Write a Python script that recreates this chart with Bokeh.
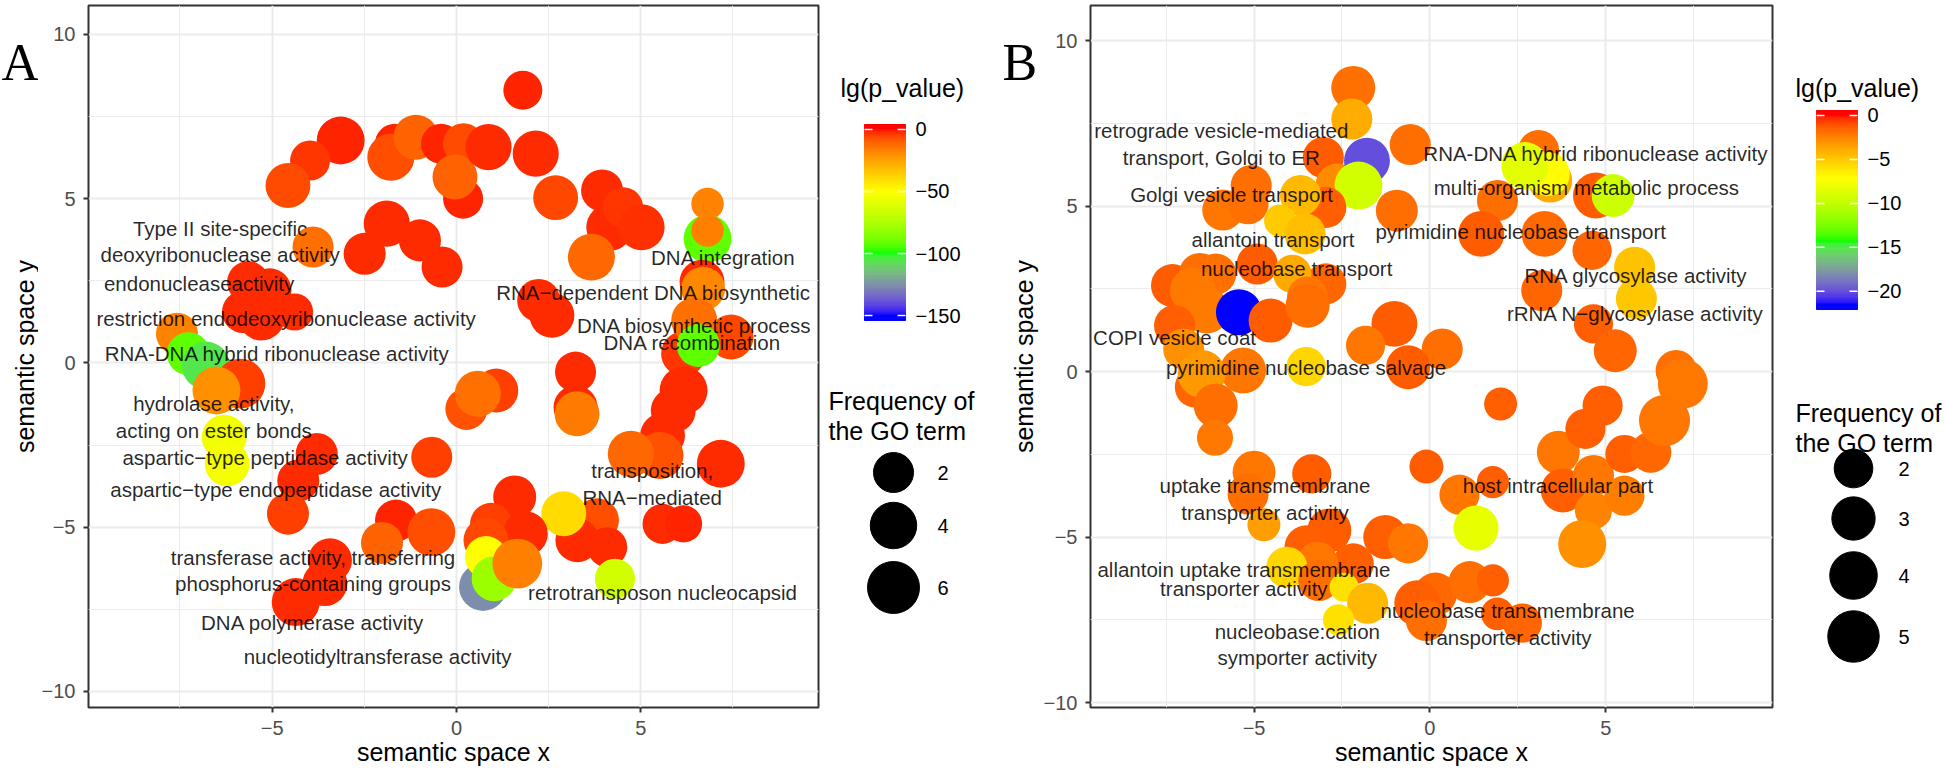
import numpy as np
from bokeh.plotting import figure
from bokeh.models import ColumnDataSource, LinearColorMapper, FixedTicker, Range1d
from bokeh.layouts import row
from bokeh.embed import file_html
from bokeh.resources import INLINE
from bokeh.core.properties import value

FONT = "Liberation Sans"

# ------------------------------------------------------------------ data A
A_x = [1.80, -3.14, -3.97, -4.57, -1.67, -1.78, -1.10, -0.42, 0.19, 0.18, -0.04, 0.87, 2.15, 2.69,
       3.95, 4.16, 4.52, 5.02, 3.66, 6.81, 6.81, 6.81, 6.66, 6.69, 6.16, 7.45, 6.45, 6.56, 2.23, 2.59,
       -2.49, -1.89, -0.99, -0.39, -3.89, -5.65, -5.07, -5.79, -5.29, -4.39, -7.58, -7.27, -6.80,
       -5.86, -6.51, -6.30, -6.22, 3.23, -3.79, -4.29, -4.57, -0.67, 0.27, 1.08, 0.58, 3.23, 3.27,
       6.16, 5.88, 5.59, 5.52, 4.73, 7.17, 1.58, 3.81, 3.28, 4.09, 2.91, 5.59, 6.16, 4.30, -1.64,
       -2.02, -0.68, -3.43, -3.57, -4.36, 0.94, 1.87, 0.80, 0.72, 0.80, 1.02, 1.65]
A_y = [8.30, 6.77, 6.16, 5.40, 6.67, 6.26, 6.87, 6.67, 6.67, 5.00, 5.66, 6.57, 6.37, 5.03,
       5.25, 4.13, 4.74, 4.13, 3.22, 4.84, 3.78, 4.03, 2.46, 2.26, 0.28, 0.79, 1.29, 0.53, 1.90, 1.45,
       3.32, 4.24, 3.73, 2.92, 3.53, 2.46, 2.21, 1.55, 1.40, 1.55, 0.89, 0.28, -0.08,
       -0.63, -0.84, -2.26, -3.07, -0.28, -2.77, -3.58, -4.59, -2.87, -1.40, -0.84, -0.94, -1.35, -1.55,
       -0.84, -1.45, -2.21, -2.82, -2.77, -3.07, -4.08, -4.79, -5.40, -5.61, -4.59, -4.90, -4.90, -6.57, -4.80,
       -5.48, -5.15, -6.01, -6.72, -7.28, -4.90, -5.20, -5.40, -6.82, -5.91, -6.57, -6.11]
A_lgp = [-2, -2, -4, -7, -2, -7.5, -11, -2, -7, -2, -11, -2.5, -2.5, -6,
         -2.5, -2.5, -4, -3, -12, -18, -92, -17, -2.5, -19, -4, -6, -14, -92, -2.5, -2.5,
         -2.5, -2.5, -2.5, -2.5, -14, -2.5, -2.5, -2.5, -2.5, -2.5, -18, -92, -106,
         -5, -21, -55, -53, -2.5, -2.5, -2.5, -5, -5, -8, -5, -14, -2.5, -16,
         -2.5, -2.5, -2.5, -8, -12, -2.5, -2.5, -7.5, -2.5, -2.5, -40, -2.5, -2, -65, -2,
         -11, -7.5, -2.5, -2.5, -2.5, -5, -2.5, -6, -126, -50, -80, -17]
A_freq = [1.7, 4.5, 2.0, 3.5, 2.0, 4.2, 3.5, 2.0, 2.3, 2.0, 3.5, 3.9, 3.9, 3.5,
          2.6, 4.2, 2.0, 3.9, 4.2, 0.0, 4.5, 0.0, 3.5, 3.2, 3.5, 3.5, 3.9, 2.9, 2.9, 3.5,
          2.6, 3.9, 2.6, 2.3, 2.3, 2.6, 3.2, 2.6, 4.2, 1.2, 2.6, 2.9, 4.5,
          5.2, 4.5, 3.5, 3.5, 2.3, 2.6, 2.6, 2.6, 2.3, 2.6, 3.2, 3.9, 3.2, 3.5,
          4.5, 3.5, 3.5, 4.2, 3.9, 4.5, 2.9, 3.2, 3.2, 2.0, 3.5, 2.0, 1.2, 2.0, 2.6,
          2.6, 4.5, 3.2, 3.5, 4.5, 2.6, 3.5, 3.5, 4.5, 2.6, 3.5, 5.2]
A_lab_text = ["Type II site-specific\ndeoxyribonuclease activity", "endonucleaseactivity",
              "restriction endodeoxyribonuclease activity", "RNA-DNA hybrid ribonuclease activity",
              "DNA integration", "RNA\u2212dependent DNA biosynthetic", "DNA biosynthetic process",
              "DNA recombination", "hydrolase activity,\nacting on ester bonds",
              "aspartic\u2212type peptidase activity", "aspartic\u2212type endopeptidase activity",
              "transposition,\nRNA\u2212mediated",
              "transferase activity, transferring\nphosphorus-containing groups",
              "retrotransposon nucleocapsid", "DNA polymerase activity",
              "nucleotidyltransferase activity"]
A_lab_x = [-6.41, -6.98, -4.62, -4.86, 7.24, 5.35, 6.45, 6.40, -6.58, -5.19, -4.90, 5.31, -3.89,
           5.59, -3.90, -2.14]
A_lab_y = [3.69, 2.43, 1.34, 0.28, 3.20, 2.13, 1.14, 0.63, -1.65, -2.89, -3.86, -3.68, -6.32,
           -6.98, -7.89, -8.94]

# ------------------------------------------------------------------ data B
B_x = [-2.18, -2.22, -0.56, -3.03, -2.63, -1.79, -2.03, -2.96, -5.08, -5.89, -5.17, -3.68, -4.26,
       -3.55, -0.94, 3.09, 3.42, 3.35, 2.70, 1.92, 4.72, 5.21, 1.46, 3.26, 4.61, 5.82, 3.18, 5.87,
       4.65, 5.27, 7.00, 7.19, -4.91, -2.96, -3.91, -3.48, -7.32, -6.54, -6.09, -6.74, -6.35, -7.26,
       -5.43, -4.53, -3.48, -1.01, 0.35, -1.83, -0.62, -3.52, -7.00, -6.67, -5.31, -6.49, -6.09,
       -6.11, 2.01, -5.00, -5.17, -4.72, -3.36, -0.10, 0.84, 1.79, 1.31, -2.86, -3.51, -2.18, -3.20,
       -4.07, -3.16, -2.44, -1.77, -2.60, -1.27, -0.62, 3.65, 3.78, 4.42, 4.91, 4.65, 4.65, 5.53,
       5.53, 6.28, 6.67, 4.33, 0.16, -0.36, -0.10, 1.13, 1.79, 1.92, 2.63]
B_y = [8.57, 7.63, 6.86, 6.47, 5.62, 6.37, 5.62, 4.96, 5.62, 4.88, 5.07, 5.32, 4.56,
       4.16, 4.86, 6.68, 5.77, 5.97, 6.22, 5.17, 5.32, 5.32, 4.16, 4.16, 3.66, 3.15, 2.45, 2.20,
       1.44, 0.63, 0.03, -0.37, 3.25, 2.65, 2.95, 2.25, 2.60, 2.95, 2.95, 2.45, 1.84, 1.39,
       1.79, 1.54, 1.99, 1.44, 0.68, 0.79, 0.13, 0.15, 0.68, -0.47, 0.03, -0.07, -1.03,
       -2.00, -0.98, -3.04, -3.70, -4.63, -3.09, -2.87, -3.72, -3.34, -4.73, -4.80, -5.31, -5.81, -5.76,
       -5.91, -6.31, -6.52, -7.00, -7.50, -5.00, -5.19, -2.44, -3.59, -1.73, -1.03, -3.14, -4.20, -3.75,
       -2.49, -2.44, -1.48, -5.21, -6.72, -7.00, -7.52, -6.36, -6.31, -7.32, -7.60]
B_lgp = [-2.0, -4.0, -1.9, -1.4, -2.8, -20.0, -9.3, -1.5, -1.9, -2.1, -2.0, -4.5, -5.2,
         -4.7, -1.9, -1.9, -3.9, -7.0, -8.4, -1.9, -1.4, -9.5, -1.4, -1.8, -1.6, -4.8, -1.6, -5.0,
         -1.5, -1.6, -2.0, -2.2, -1.4, -1.6, -3.9, -2.1, -1.4, -1.9, -2.0, -2.2, -2.3, -1.5,
         -21.5, -1.4, -1.9, -1.4, -1.9, -2.1, -1.4, -5.6, -3.0, -1.6, -2.1, -3.3, -1.9,
         -2.2, -1.5, -2.1, -1.9, -3.5, -1.4, -1.4, -2.1, -1.5, -8.3, -1.4, -1.5, -1.5, -2.1,
         -5.6, -1.9, -6.0, -4.5, -6.0, -1.5, -2.1, -2.1, -1.5, -1.5, -1.5, -2.1, -2.6, -2.4,
         -1.5, -1.7, -2.1, -3.0, -1.7, -1.5, -1.9, -1.9, -1.5, -1.5, -1.6]
B_freq = [3.15, 2.5, 2.5, 2.5, 3.15, 3.6, 4.1, 2.5, 2.5, 2.5, 2.5, 2.5, 0.8,
          2.5, 2.7, 2.5, 3.15, 3.15, 3.9, 2.5, 3.6, 2.9, 3.6, 3.6, 2.1, 2.5, 2.5, 2.5,
          2.1, 2.9, 2.5, 4.6, 2.5, 2.5, 1.9, 2.5, 2.9, 2.7, 2.5, 3.6, 3.6, 2.5,
          3.6, 3.15, 3.15, 3.6, 2.5, 2.1, 3.15, 2.1, 2.5, 2.5, 3.6, 4.1, 3.15,
          1.5, 0.94, 2.9, 2.5, 0.94, 2.1, 1.1, 2.3, 0.8, 3.4, 3.15, 3.15, 2.5, 2.5,
          2.5, 2.5, 0.3, 2.5, 0.6, 3.15, 2.3, 2.9, 3.15, 2.3, 2.3, 2.5, 1.7, 2.3,
          1.9, 2.5, 4.9, 4.1, 2.9, 3.6, 2.5, 2.7, 0.8, 0.9, 2.1]
B_lab_text = ["retrograde vesicle-mediated\ntransport, Golgi to ER", "Golgi vesicle transport",
              "allantoin transport", "nucleobase transport", "COPI vesicle coat",
              "pyrimidine nucleobase salvage", "RNA-DNA hybrid ribonuclease activity",
              "multi-organism metabolic process", "pyrimidine nucleobase transport",
              "RNA glycosylase activity", "rRNA N\u2212glycosylase activity",
              "uptake transmembrane\ntransporter activity", "host intracellular part",
              "nucleobase:cation\nsymporter activity",
              "nucleobase transmembrane\ntransporter activity"]
B_lab_x = [-5.93, -5.64, -4.46, -3.79, -7.26, -3.52, 4.72, 4.45, 2.58, 5.86, 5.84, -4.69, 3.64,
           -3.77, 2.21]
B_lab_y = [6.87, 5.35, 3.99, 3.10, 1.02, 0.13, 6.58, 5.55, 4.24, 2.90, 1.74, -3.85, -3.44,
           -8.24, -7.63]
B_tight_text = ["allantoin uptake transmembrane\ntransporter activity"]
B_tight_x = [-5.29]
B_tight_y = [-6.27]

A_cb_ticks = [-150, -100, -50, 0]
B_cb_ticks = [-20, -15, -10, -5, 0]
A_size_keys = [2, 4, 6]
B_size_keys = [2, 3, 4, 5]
A_limits = (-150, 0)
B_limits = (-21.5, 0)

# ------------------------------------------------------------------ colour scale (Lab gradientn)
_M = np.array([[0.4124564, 0.3575761, 0.1804375],
               [0.2126729, 0.7151522, 0.0721750],
               [0.0193339, 0.1191920, 0.9503041]])
_Mi = np.linalg.inv(_M)
_W = np.array([0.95047, 1.0, 1.08883])


def _f(t):
    d = 6 / 29
    return np.where(t > d ** 3, np.cbrt(t), t / (3 * d * d) + 4 / 29)


def _finv(t):
    d = 6 / 29
    return np.where(t > d, t ** 3, 3 * d * d * (t - 4 / 29))


def rgb2lab(rgb):
    c = np.array(rgb, float) / 255
    lin = np.where(c <= 0.04045, c / 12.92, ((c + 0.055) / 1.055) ** 2.4)
    fx, fy, fz = _f(_M @ lin / _W)
    return np.array([116 * fy - 16, 500 * (fx - fy), 200 * (fy - fz)])


def lab2hex(lab):
    L, a, b = lab
    fy = (L + 16) / 116
    xyz = np.array([_finv(fy + a / 500), _finv(fy), _finv(fy - b / 200)]) * _W
    lin = np.clip(_Mi @ xyz, 0, 1)
    c = np.where(lin <= 0.0031308, 12.92 * lin, 1.055 * lin ** (1 / 2.4) - 0.055)
    r, g, bb = np.round(np.clip(c, 0, 1) * 255).astype(int)
    return "#%02x%02x%02x" % (r, g, bb)


stops = [rgb2lab(c) for c in [(0, 0, 255), (0, 255, 0), (255, 255, 0), (255, 0, 0)]]
palette = []
for t in np.linspace(0, 1, 256):
    seg = min(int(t * 3), 2)
    u = t * 3 - seg
    palette.append(lab2hex(stops[seg] * (1 - u) + stops[seg + 1] * u))

mapA = LinearColorMapper(palette=palette, low=A_limits[0], high=A_limits[1])
mapB = LinearColorMapper(palette=palette, low=B_limits[0], high=B_limits[1])


def sizeA(s):
    return np.sqrt(1050 + 276 * np.asarray(s, float))


def sizeB(s):
    return np.sqrt(727 + 384 * np.asarray(s, float))


def minus(v):
    return str(v).replace("-", "\u2212")


MINUS = {t: minus(t) for t in [-150, -100, -50, -20, -15, -10, -5]}

H = 774
TOP, BOT = 5, 707          # frame top / bottom shared by every figure of the row


def panel(width, mbl, xr, yr, xs, ys, lgp, freq, sfun, mapper, ltxt, lx, ly):
    p = figure(width=width, height=H, x_range=Range1d(*xr), y_range=Range1d(*yr),
               output_backend="svg", toolbar_location=None,
               min_border_left=mbl, min_border_right=8, min_border_top=TOP,
               min_border_bottom=H - BOT)
    p.outline_line_color = "#333333"
    p.outline_line_width = 2
    p.xaxis.ticker = FixedTicker(ticks=[-5, 0, 5], minor_ticks=[-7.5, -2.5, 2.5, 7.5])
    p.yaxis.ticker = FixedTicker(ticks=[-10, -5, 0, 5, 10], minor_ticks=[-7.5, -2.5, 2.5, 7.5])
    for ax in (p.xaxis, p.yaxis):
        ax.major_label_overrides = MINUS
        ax.axis_line_color = None
        ax.major_tick_line_color = "#333333"
        ax.major_tick_line_width = 2
        ax.major_tick_out = 5
        ax.major_tick_in = 0
        ax.minor_tick_line_color = None
        ax.major_label_text_font = FONT
        ax.major_label_text_font_size = "20px"
        ax.major_label_text_color = "#4d4d4d"
        ax.major_label_standoff = 8
        ax.axis_label_text_font = FONT
        ax.axis_label_text_font_size = "25px"
        ax.axis_label_text_font_style = "normal"
        ax.axis_label_text_color = "black"
    p.xaxis.axis_label = "semantic space x"
    p.xaxis.axis_label_standoff = 0
    p.grid.grid_line_color = "#ebebeb"
    p.grid.grid_line_width = 2
    p.grid.minor_grid_line_color = "#ebebeb"
    p.grid.minor_grid_line_width = 1

    src = ColumnDataSource(dict(x=xs, y=ys, lgp=lgp, d=sfun(freq)))
    p.scatter("x", "y", size="d", source=src, line_color=None, fill_alpha=1,
              fill_color={"field": "lgp", "transform": mapper})
    lsrc = ColumnDataSource(dict(x=lx, y=ly, t=ltxt))
    p.text("x", "y", text="t", source=lsrc, text_align="center", text_baseline="middle",
           text_font=value(FONT), text_font_size="20.5px", text_color="black",
           text_alpha=0.85, text_line_height=1.15)
    return p


def plain(width):
    # data coordinates of these helper figures are page pixels (y downwards)
    f = figure(width=width, height=H, x_range=Range1d(0, width), y_range=Range1d(BOT, TOP),
               output_backend="svg", toolbar_location=None, x_axis_type=None, y_axis_type=None,
               min_border_left=0, min_border_right=0, min_border_top=TOP,
               min_border_bottom=H - BOT)
    f.outline_line_color = None
    f.grid.visible = False
    return f


def letter(f, x, txt):
    f.text([x], [62], text=[txt], text_font=value("Liberation Serif"), text_font_size="52px",
           text_baseline="alphabetic", text_align="left", text_color="black")


def ytitle(f, x, y):
    f.text([x], [y], text=["semantic space y"], angle=np.pi / 2, text_font=value(FONT),
           text_font_size="25px", text_baseline="middle", text_align="center", text_color="black")


def legend(f, title_x, mapper, limits, ticks, bar_x, bar_top, bar_h, ft_x, ft_y,
           keys, key_x, key_ys, sfun, lab_x):
    low, high = limits
    f.text([title_x], [87], text=["lg(p_value)"], text_font=value(FONT),
           text_font_size="25px", text_baseline="middle", text_color="black")
    n = 120
    edges = np.linspace(bar_top, bar_top + bar_h, n + 1)
    pad = bar_h / 40.0
    centers = (edges[:-1] + edges[1:]) / 2
    vals = high - (centers - bar_top - pad) / (bar_h - 2 * pad) * (high - low)
    vals = np.clip(vals, low, high)
    bsrc = ColumnDataSource(dict(top=edges[:-1], bottom=edges[1:], v=vals))
    f.quad(left=bar_x, right=bar_x + 41, top="top", bottom="bottom", source=bsrc,
           fill_color={"field": "v", "transform": mapper},
           line_color={"field": "v", "transform": mapper}, line_width=1)
    ty = [bar_top + pad + (high - t) / (high - low) * (bar_h - 2 * pad) for t in ticks]
    f.segment(x0=[bar_x] * len(ty), x1=[bar_x + 8] * len(ty), y0=ty, y1=ty,
              line_color="white", line_width=1.5)
    f.segment(x0=[bar_x + 33] * len(ty), x1=[bar_x + 41] * len(ty), y0=ty, y1=ty,
              line_color="white", line_width=1.5)
    f.text([bar_x + 51] * len(ty), ty, text=[minus(t) for t in ticks], text_font=value(FONT),
           text_font_size="20px", text_baseline="middle", text_color="black")
    f.text([ft_x, ft_x], ft_y, text=["Frequency of", "the GO term"],
           text_font=value(FONT), text_font_size="25px", text_baseline="alphabetic",
           text_color="black")
    f.scatter([key_x] * len(keys), key_ys, size=sfun(keys), color="black")
    f.text([lab_x] * len(keys), key_ys, text=[str(k) for k in keys], text_font=value(FONT),
           text_font_size="20px", text_baseline="middle", text_color="black")


# ---- left gutter with letter A and y title of panel A
gA = plain(38)
letter(gA, 1, "A")
ytitle(gA, 24, 356)

pA = panel(788, 48, (-9.98, 9.82), (-10.49, 10.88), A_x, A_y, A_lgp, A_freq, sizeA, mapA,
           A_lab_text, A_lab_x, A_lab_y)

# ---- legend A (page x 826..1040) + letter B + y title of panel B
legA = plain(214)
legend(legA, 14, mapA, A_limits, A_cb_ticks, 38, 124, 196, 2, [400, 430],
       A_size_keys, 67, [472, 525, 587], sizeA, 111)
letter(legA, 176, "B")
ytitle(legA, 197, 356)

pB = panel(740, 48, (-9.65, 9.74), (-10.15, 11.06), B_x, B_y, B_lgp, B_freq, sizeB, mapB,
           B_lab_text, B_lab_x, B_lab_y)
tsrc = ColumnDataSource(dict(x=B_tight_x, y=B_tight_y, t=B_tight_text))
pB.text("x", "y", text="t", source=tsrc, text_align="center", text_baseline="middle",
        text_font=value(FONT), text_font_size="20.5px", text_color="black",
        text_alpha=0.85, text_line_height=0.83)

legB = plain(166)
legend(legB, 15, mapB, B_limits, B_cb_ticks, 36, 110, 199, 15, [412, 442],
       B_size_keys, 73, [468, 518, 575, 636], sizeB, 118)

layout = row(gA, pA, legA, pB, legB)
open("out.html", "w").write(file_html(layout, INLINE))
